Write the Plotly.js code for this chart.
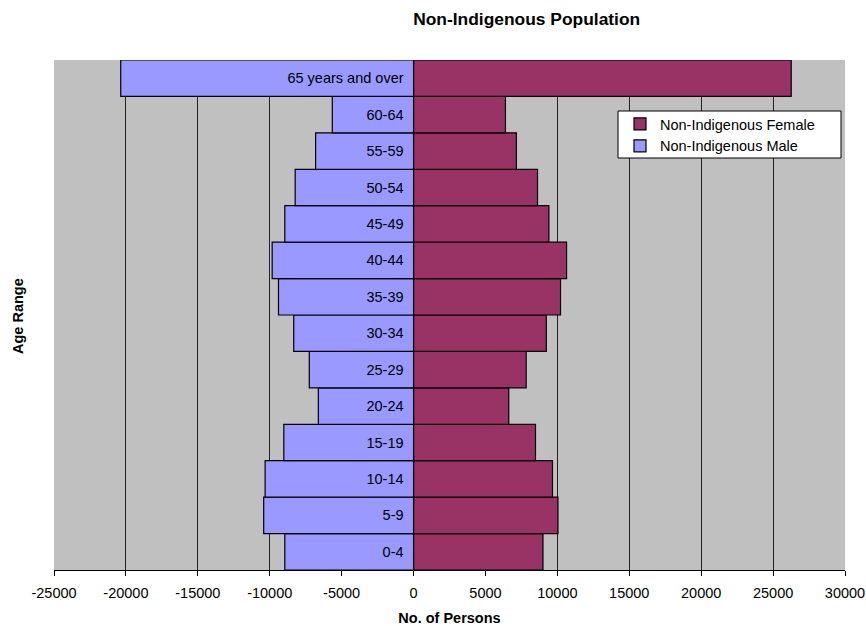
<!DOCTYPE html>
<html>
<head>
<meta charset="utf-8">
<script src="https://cdn.plot.ly/plotly-3.0.1.min.js"></script>
<style>html,body{margin:0;padding:0;background:#fff;}#chart{width:866px;height:626px;}</style>
</head>
<body>
<div id="chart"></div>
<script>
// Data (bottom to top)
const ageRanges = ["0-4","5-9","10-14","15-19","20-24","25-29","30-34","35-39","40-44","45-49","50-54","55-59","60-64","65 years and over"];
const maleValues = [-8950,-10420,-10320,-9020,-6620,-7250,-8330,-9390,-9830,-8950,-8230,-6810,-5650,-20360];
const femaleValues = [9000,10040,9660,8480,6620,7830,9230,10220,10640,9410,8620,7150,6390,26260];
const xTickVals = [-25000,-20000,-15000,-10000,-5000,0,5000,10000,15000,20000,25000,30000];
const xTickLabels = ["-25000","-20000","-15000","-10000","-5000","0","5000","10000","15000","20000","25000","30000"];

const FONT = "Liberation Sans, Arial, sans-serif";

const traces = [
  {
    type: "bar", orientation: "h", name: "Non-Indigenous Female",
    y: ageRanges, x: femaleValues,
    marker: {color: "#993366", line: {color: "#000000", width: 1.2}},
    hoverinfo: "none"
  },
  {
    type: "bar", orientation: "h", name: "Non-Indigenous Male",
    y: ageRanges, x: maleValues,
    marker: {color: "#9999FF", line: {color: "#000000", width: 1.2}},
    hoverinfo: "none"
  }
];

const layout = {
  width: 866, height: 626,
  margin: {l: 54, r: 21, t: 60, b: 56},
  paper_bgcolor: "#ffffff",
  plot_bgcolor: "#C0C0C0",
  font: {family: FONT, size: 14.5, color: "#000000"},
  barmode: "overlay",
  bargap: 0,
  showlegend: true,
  title: {
    text: "<b>Non-Indigenous Population</b>",
    font: {family: FONT, size: 17.4, color: "#000"},
    xref: "container", yref: "container",
    x: 526.7/866, y: 1 - 18.5/626, xanchor: "center", yanchor: "middle"
  },
  xaxis: {
    range: [-25000, 30000],
    tickvals: xTickVals, ticktext: xTickLabels,
    ticks: "outside", ticklen: 5, tickcolor: "#000", tickwidth: 1,
    ticklabelstandoff: 5,
    showline: true, linecolor: "#000", linewidth: 1,
    showgrid: true, gridcolor: "#222222", gridwidth: 1,
    zeroline: false,
    tickfont: {family: FONT, size: 14.5, color: "#000"},
    title: {text: "<b>No. of Persons</b>", font: {family: FONT, size: 14.5, color: "#000"}, standoff: 12},
    fixedrange: true
  },
  yaxis: {
    type: "category",
    categoryorder: "array", categoryarray: ageRanges,
    range: [-0.5, 13.5],
    anchor: "free", position: 5/11,
    showline: false, showgrid: false, zeroline: false,
    ticks: "", ticklabelstandoff: 10,
    tickfont: {family: FONT, size: 14.5, color: "#000"},
    fixedrange: true
  },
  legend: {
    x: (620 - 54)/791, y: (570 - 108)/510, xanchor: "left", yanchor: "top",
    bgcolor: "rgba(0,0,0,0)", borderwidth: 0,
    traceorder: "normal",
    font: {family: FONT, size: 14.5, color: "#000"}
  },
  shapes: [
    {type: "rect", xref: "paper", yref: "paper", layer: "above",
     x0: (618 - 54)/791, x1: (841 - 54)/791, y0: (570 - 158)/510, y1: (570 - 111)/510,
     fillcolor: "#ffffff", line: {color: "#000000", width: 1}}
  ],
  annotations: [
    {text: "<b>Age Range</b>", xref: "paper", yref: "paper",
     x: (18 - 54)/791, y: (570 - 316)/510, xanchor: "center", yanchor: "middle",
     textangle: -90, showarrow: false, font: {family: FONT, size: 14.5, color: "#000"}}
  ]
};

Plotly.newPlot("chart", traces, layout, {staticPlot: true, displayModeBar: false});
</script>
</body>
</html>
